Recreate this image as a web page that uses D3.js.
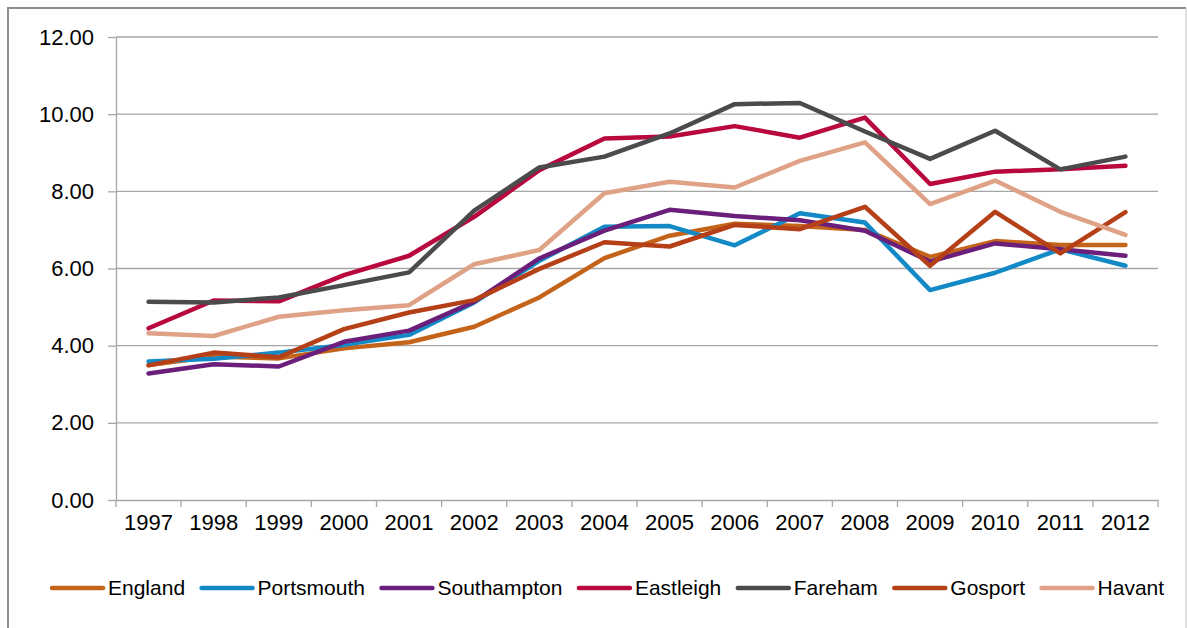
<!DOCTYPE html>
<html>
<head>
<meta charset="utf-8">
<script src="https://cdn.jsdelivr.net/npm/d3@7"></script>
<style>
  body { margin: 0; background: #fff; }
  svg { display: block; font-family: Arial, "Liberation Sans", sans-serif; }
</style>
</head>
<body>
<div id="chart"></div>
<script>
const years = ["1997", "1998", "1999", "2000", "2001", "2002", "2003", "2004",
               "2005", "2006", "2007", "2008", "2009", "2010", "2011", "2012"];
const yTicks = [0, 2, 4, 6, 8, 10, 12];

const seriesNames = ["England", "Portsmouth", "Southampton", "Eastleigh", "Fareham", "Gosport", "Havant"];
const england     = [3.50, 3.72, 3.67, 3.93, 4.09, 4.49, 5.25, 6.27, 6.85, 7.16, 7.10, 7.00, 6.30, 6.71, 6.61, 6.61];
const portsmouth  = [3.59, 3.66, 3.82, 4.02, 4.28, 5.12, 6.20, 7.08, 7.10, 6.60, 7.43, 7.19, 5.44, 5.89, 6.50, 6.07];
const southampton = [3.28, 3.52, 3.46, 4.10, 4.39, 5.14, 6.26, 6.98, 7.52, 7.36, 7.25, 6.98, 6.18, 6.65, 6.50, 6.33];
const eastleigh   = [4.45, 5.17, 5.15, 5.83, 6.33, 7.34, 8.55, 9.37, 9.42, 9.69, 9.39, 9.91, 8.19, 8.51, 8.57, 8.66];
const fareham     = [5.14, 5.12, 5.25, 5.57, 5.90, 7.50, 8.62, 8.90, 9.50, 10.26, 10.29, 9.55, 8.84, 9.57, 8.57, 8.90];
const gosport     = [3.49, 3.82, 3.70, 4.43, 4.86, 5.18, 5.99, 6.68, 6.57, 7.13, 7.02, 7.60, 6.07, 7.47, 6.39, 7.46];
const havant      = [4.32, 4.25, 4.75, 4.92, 5.05, 6.11, 6.48, 7.95, 8.25, 8.10, 8.79, 9.27, 7.67, 8.28, 7.47, 6.87];

const colors = ["#c4641a", "#138ac6", "#6b1f7a", "#b8083e", "#4b4b4d", "#b53f17", "#e0a286"];

const series = [england, portsmouth, southampton, eastleigh, fareham, gosport, havant]
  .map((values, i) => ({ name: seriesNames[i], color: colors[i], values: values }));

const width = 1187;
const height = 628;
const margin = { top: 37, right: 29, bottom: 128, left: 116 };

const svg = d3.select("#chart")
  .append("svg")
  .attr("width", width)
  .attr("height", height);

// outer frame (chart is cropped at the bottom)
svg.append("path")
  .attr("d", "M8,628 V8 H1186")
  .attr("fill", "none")
  .attr("stroke", "#8e8e8e")
  .attr("stroke-width", 2);
svg.append("line")
  .attr("x1", 1186).attr("x2", 1186).attr("y1", 8).attr("y2", 628)
  .attr("stroke", "#c4c4c4")
  .attr("stroke-width", 1);

const x = d3.scaleBand()
  .domain(years)
  .range([margin.left, width - margin.right]);

const y = d3.scaleLinear()
  .domain([0, 12])
  .range([height - margin.bottom, margin.top]);

const cx = d => x(d) + x.bandwidth() / 2;

// GRIDLINES
svg.append("g")
  .selectAll("line")
  .data(yTicks.filter(t => t > 0))
  .join("line")
  .attr("x1", margin.left)
  .attr("x2", width - margin.right)
  .attr("y1", d => y(d))
  .attr("y2", d => y(d))
  .attr("stroke", "#a6a6a6")
  .attr("stroke-width", 1.3);

// Y AXIS
const yAxis = svg.append("g")
  .attr("transform", `translate(${margin.left},0)`)
  .call(d3.axisLeft(y)
    .tickValues(yTicks)
    .tickFormat(d3.format(".2f"))
    .tickSizeInner(8)
    .tickSizeOuter(0)
    .tickPadding(14));
yAxis.select(".domain").attr("stroke", "#a6a6a6").attr("stroke-width", 1.3);
yAxis.selectAll(".tick line").attr("stroke", "#a6a6a6").attr("stroke-width", 1.3);
yAxis.selectAll("text").attr("font-size", 22).attr("fill", "#000");

// X AXIS
const xAxis = svg.append("g")
  .attr("transform", `translate(0,${y(0)})`)
  .call(d3.axisBottom(x).tickSize(0).tickPadding(14));
xAxis.select(".domain").attr("stroke", "#a6a6a6").attr("stroke-width", 1.3);
xAxis.selectAll("text").attr("font-size", 22).attr("fill", "#000");
xAxis.selectAll(".cat-tick")
  .data(years.map(d => x(d)).concat([x.range()[1]]))
  .join("line")
  .attr("class", "cat-tick")
  .attr("x1", d => d).attr("x2", d => d)
  .attr("y1", 0).attr("y2", 7)
  .attr("stroke", "#a6a6a6")
  .attr("stroke-width", 1.3);

// LINES
const line = d3.line()
  .x((d, i) => cx(years[i]))
  .y(d => y(d));

svg.append("g")
  .selectAll("path")
  .data(series)
  .join("path")
  .attr("d", d => line(d.values))
  .attr("fill", "none")
  .attr("stroke", d => d.color)
  .attr("stroke-width", 4.5)
  .attr("stroke-linejoin", "round")
  .attr("stroke-linecap", "round");

// LEGEND
const legend = svg.append("g").attr("transform", "translate(0,588)");
const swatch = 55;
const gap = 14.5;
let lx = 50;
series.forEach(s => {
  legend.append("line")
    .attr("x1", lx + 2).attr("x2", lx + swatch - 2)
    .attr("y1", 0).attr("y2", 0)
    .attr("stroke", s.color)
    .attr("stroke-width", 4.5)
    .attr("stroke-linecap", "round");
  const t = legend.append("text")
    .attr("x", lx + swatch + 3)
    .attr("dy", "0.35em")
    .attr("font-size", 21)
    .attr("fill", "#000")
    .text(s.name);
  lx += swatch + 3 + t.node().getComputedTextLength() + gap;
});
</script>
</body>
</html>
